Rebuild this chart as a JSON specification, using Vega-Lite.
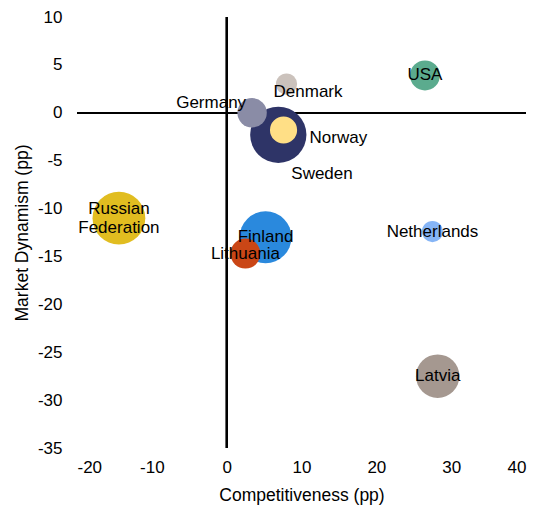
{
  "$schema": "https://vega.github.io/schema/vega-lite/v6.json",
  "description": "Bubble chart: competitiveness vs market dynamism by country.",
  "width": 449,
  "height": 431,
  "autosize": "none",
  "padding": {"left": 77, "top": 17, "right": 13, "bottom": 60},
  "background": "#ffffff",
  "config": {
    "view": {"stroke": null},
    "font": "Liberation Sans",
    "axis": {
      "domain": false,
      "ticks": false,
      "grid": false,
      "labelFont": "Liberation Sans",
      "labelFontSize": 17,
      "labelColor": "#000000",
      "labelExpr": "'' + datum.value",
      "titleFont": "Liberation Sans",
      "titleFontSize": 17.5,
      "titleFontWeight": "normal",
      "titleColor": "#000000"
    }
  },
  "data": {
    "values": [
      {"country": "Sweden", "label": "Sweden", "competitiveness": 6.9, "dynamism": -2.3, "weight": 99, "pos": "below"},
      {"country": "Finland", "label": "Finland", "competitiveness": 5.2, "dynamism": -13.0, "weight": 84, "pos": "center"},
      {"country": "Russian Federation", "label": "Russian\nFederation", "competitiveness": -14.4, "dynamism": -11.0, "weight": 87, "pos": "wrap"},
      {"country": "Latvia", "label": "Latvia", "competitiveness": 28.2, "dynamism": -27.5, "weight": 59, "pos": "center"},
      {"country": "USA", "label": "USA", "competitiveness": 26.5, "dynamism": 3.9, "weight": 28, "pos": "center"},
      {"country": "Denmark", "label": "Denmark", "competitiveness": 8.0, "dynamism": 3.0, "weight": 14, "pos": "below"},
      {"country": "Germany", "label": "Germany", "competitiveness": 3.4, "dynamism": 0.0, "weight": 27, "pos": "left"},
      {"country": "Norway", "label": "Norway", "competitiveness": 7.6, "dynamism": -1.8, "weight": 23, "pos": "right"},
      {"country": "Lithuania", "label": "Lithuania", "competitiveness": 2.5, "dynamism": -14.7, "weight": 28, "pos": "center"},
      {"country": "Netherlands", "label": "Netherlands", "competitiveness": 27.5, "dynamism": -12.4, "weight": 14, "pos": "center"}
    ]
  },
  "encoding": {
    "x": {
      "field": "competitiveness",
      "type": "quantitative",
      "title": "Competitiveness (pp)",
      "scale": {"domain": [-20, 40], "nice": false, "zero": false},
      "axis": {"values": [-20, -10, 0, 10, 20, 30, 40], "labelPadding": 11, "titlePadding": 11}
    },
    "y": {
      "field": "dynamism",
      "type": "quantitative",
      "title": "Market Dynamism (pp)",
      "scale": {"domain": [-35, 10], "nice": false, "zero": false},
      "axis": {"values": [-35, -30, -25, -20, -15, -10, -5, 0, 5, 10], "labelPadding": 15, "titlePadding": 6}
    }
  },
  "layer": [
    {
      "mark": {"type": "rule", "color": "#000000", "strokeWidth": 1.5},
      "encoding": {"x": {"datum": 0}, "y": null}
    },
    {
      "mark": {"type": "rule", "color": "#000000", "strokeWidth": 1.5},
      "encoding": {"y": {"datum": 0}, "x": null}
    },
    {
      "mark": {"type": "circle", "opacity": 1},
      "encoding": {
        "size": {
          "field": "weight",
          "type": "quantitative",
          "scale": {"domain": [0, 100], "range": [0, 3200], "zero": true},
          "legend": null
        },
        "color": {
          "field": "country",
          "type": "nominal",
          "legend": null,
          "scale": {
            "domain": ["Sweden", "Finland", "Russian Federation", "Latvia", "USA", "Denmark", "Germany", "Norway", "Lithuania", "Netherlands"],
            "range": ["#2e3467", "#2a89dd", "#e1bd20", "#a59890", "#5bab8e", "#cbc2bc", "#8a8ca6", "#ffdf86", "#ca4616", "#86b5f6"]
          }
        }
      }
    },
    {
      "transform": [{"filter": "datum.pos == 'center'"}],
      "mark": {"type": "text", "fontSize": 17, "color": "#000000", "align": "center", "baseline": "middle"},
      "encoding": {"text": {"field": "label"}}
    },
    {
      "transform": [{"filter": "datum.pos == 'wrap'"}],
      "mark": {"type": "text", "fontSize": 17, "color": "#000000", "align": "center", "baseline": "middle", "lineBreak": "\n", "lineHeight": 19, "dy": -9},
      "encoding": {"text": {"field": "label"}}
    },
    {
      "transform": [{"filter": "datum.country == 'Germany'"}],
      "mark": {"type": "text", "fontSize": 17, "color": "#000000", "align": "right", "baseline": "middle", "dx": -6, "dy": -10},
      "encoding": {"text": {"field": "label"}}
    },
    {
      "transform": [{"filter": "datum.country == 'Denmark'"}],
      "mark": {"type": "text", "fontSize": 17, "color": "#000000", "align": "left", "baseline": "middle", "dx": -13, "dy": 8},
      "encoding": {"text": {"field": "label"}}
    },
    {
      "transform": [{"filter": "datum.country == 'Norway'"}],
      "mark": {"type": "text", "fontSize": 17, "color": "#000000", "align": "left", "baseline": "middle", "dx": 26, "dy": 8},
      "encoding": {"text": {"field": "label"}}
    },
    {
      "transform": [{"filter": "datum.country == 'Sweden'"}],
      "mark": {"type": "text", "fontSize": 17, "color": "#000000", "align": "left", "baseline": "middle", "dx": 13, "dy": 39},
      "encoding": {"text": {"field": "label"}}
    }
  ]
}
